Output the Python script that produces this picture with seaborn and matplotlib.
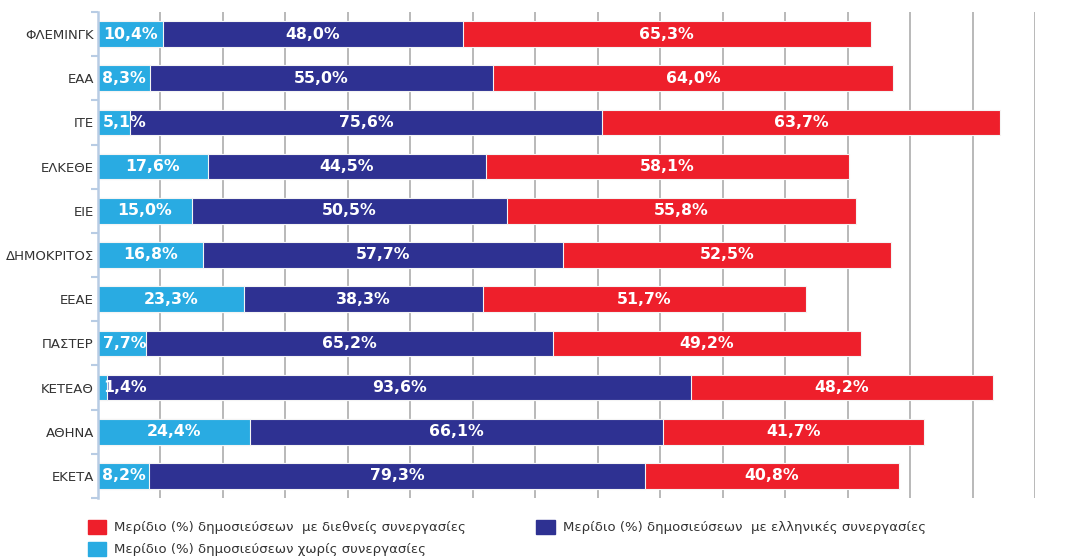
import matplotlib
matplotlib.use("Agg")
import matplotlib.pyplot as plt
from matplotlib.patches import Patch
import seaborn as sns
import pandas as pd
import numpy as np

categories = ["ΦΛΕΜΙΝΓΚ", "ΕΑΑ", "ΙΤΕ", "ΕΛΚΕΘΕ", "ΕΙΕ", "ΔΗΜΟΚΡΙΤΟΣ",
              "ΕΕΑΕ", "ΠΑΣΤΕΡ", "ΚΕΤΕΑΘ", "ΑΘΗΝΑ", "ΕΚΕΤΑ"]
no_collab = [10.4, 8.3, 5.1, 17.6, 15.0, 16.8, 23.3, 7.7, 1.4, 24.4, 8.2]
greek_collab = [48.0, 55.0, 75.6, 44.5, 50.5, 57.7, 38.3, 65.2, 93.6, 66.1, 79.3]
intl_collab = [65.3, 64.0, 63.7, 58.1, 55.8, 52.5, 51.7, 49.2, 48.2, 41.7, 40.8]

label_intl = "Μερίδιο (%) δημοσιεύσεων  με διεθνείς συνεργασίες"
label_greek = "Μερίδιο (%) δημοσιεύσεων  με ελληνικές συνεργασίες"
label_none = "Μερίδιο (%) δημοσιεύσεων χωρίς συνεργασίες"

c_light = "#29ABE2"
c_dark = "#2E3192"
c_red = "#EE1F2B"

sns.set_theme(style="white")
plt.rcParams["font.family"] = ["DejaVu Sans"]

df = pd.DataFrame({"cat": categories, "none": no_collab,
                   "greek": greek_collab, "intl": intl_collab})
df["c1"] = df["none"]
df["c2"] = df["none"] + df["greek"]
df["c3"] = df["c2"] + df["intl"]

fig = plt.figure(figsize=(10.86, 5.59), dpi=100)
ax = fig.add_axes([98 / 1086, 1 - 498 / 559, (1035 - 98) / 1086, (498 - 12) / 559])

ax.set_xlim(0, 150)
ax.set_xticks(np.arange(0, 151, 10))
ax.xaxis.grid(True, color="#b3b3b3", linewidth=1.3)
ax.set_axisbelow(True)

for col, color in [("c3", c_red), ("c2", c_dark), ("c1", c_light)]:
    sns.barplot(data=df, x=col, y="cat", color=color, width=0.58,
                edgecolor="#f4f4f4", linewidth=0.8, saturation=1, ax=ax,
                orient="h")

ax.set_xlabel("")
ax.set_ylabel("")
ax.tick_params(axis="x", length=0, labelbottom=False)
ax.tick_params(axis="y", which="major", length=0, labelsize=9.5,
               labelcolor="#333333", pad=3)
n = len(categories)
ax.set_ylim(n - 0.5, -0.5)
ax.set_yticks(np.arange(-0.5, n, 1.0), minor=True)
ax.tick_params(axis="y", which="minor", left=True, length=5, width=1.5,
               color="#b8cce4", direction="out")
for s in ["top", "right", "bottom"]:
    ax.spines[s].set_visible(False)
ax.spines["left"].set_color("#b8cce4")
ax.spines["left"].set_linewidth(1.8)

fmt = lambda v: f"{v:.1f}%".replace(".", ",")
fs = 11.3
for i in range(n):
    v = df["none"][i]
    if v < 8:
        ax.text(0.8, i, fmt(v), ha="left", va="center", color="white",
                fontsize=fs, fontweight="bold")
    else:
        ax.text(v / 2, i, fmt(v), ha="center", va="center", color="white",
                fontsize=fs, fontweight="bold")
    ax.text(df["c1"][i] + df["greek"][i] / 2, i, fmt(df["greek"][i]),
            ha="center", va="center", color="white", fontsize=fs, fontweight="bold")
    ax.text(df["c2"][i] + df["intl"][i] / 2, i, fmt(df["intl"][i]),
            ha="center", va="center", color="white", fontsize=fs, fontweight="bold")

handles = [Patch(facecolor=c_red, edgecolor=c_red, label=label_intl),
           Patch(facecolor=c_light, edgecolor=c_light, label=label_none),
           Patch(facecolor=c_dark, edgecolor=c_dark, label=label_greek)]
fig.legend(handles=handles, loc="upper left", ncol=2,
           bbox_to_anchor=(88 / 1086, 1 - 520 / 559), frameon=False,
           borderpad=0, borderaxespad=0, handlelength=1.4, handleheight=1.25,
           handletextpad=0.6, labelspacing=0.55, columnspacing=5.3,
           prop={"size": 9.5}, labelcolor="#333333")

fig.savefig("out.png", dpi=100)
